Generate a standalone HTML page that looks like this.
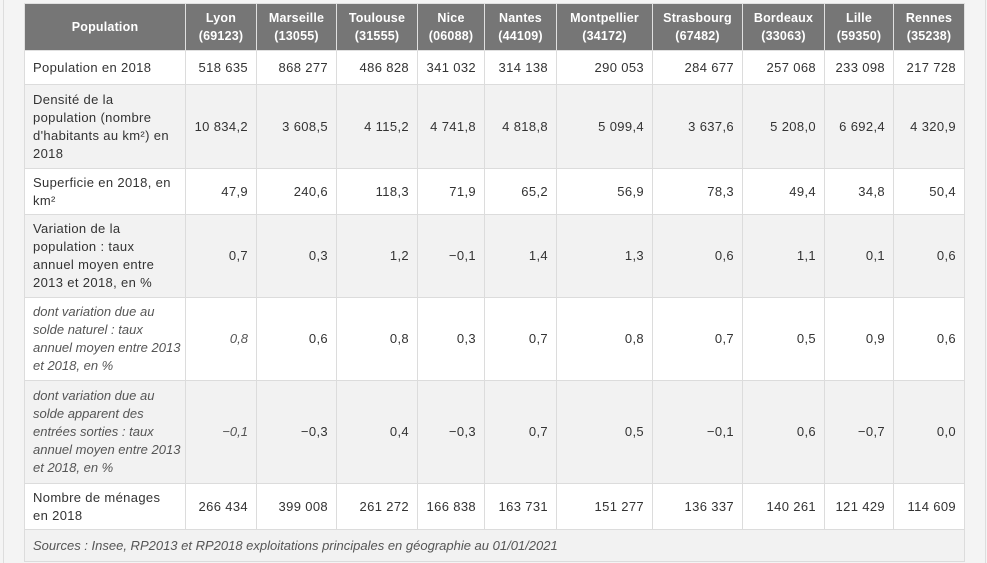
<!DOCTYPE html>
<html><head><meta charset="utf-8"><style>
html,body{margin:0;padding:0;width:987px;height:563px;overflow:hidden;background:#f4f4f4;font-family:"Liberation Sans",sans-serif;}
.lb{position:absolute;left:3px;top:0;width:1px;height:563px;background:#ddd}
.rb{position:absolute;left:985px;top:0;width:1px;height:563px;background:#ddd}
table{position:absolute;left:24px;top:3px;border-collapse:collapse;table-layout:fixed;width:940px;font-size:13px;letter-spacing:0.35px;color:#333}
td,th{border:1px solid #dcdcdc;padding:0 8px;line-height:18px;box-sizing:border-box}
th{background:#767676;color:#fff;font-weight:bold;text-align:center;border-color:#e0e0e0;font-size:12.5px;letter-spacing:0.2px;padding:0 4px}
td{text-align:right}
td:first-child{text-align:left;padding-right:6px}
tr.w td{background:#fff}
tr.g td{background:#f2f2f2}
.i{font-style:italic;color:#555;letter-spacing:0}
td.nw{white-space:nowrap;overflow:hidden;padding-right:0}
.src{text-align:left!important;font-style:italic;color:#555;background:#f2f2f2;letter-spacing:0}
</style></head><body>
<div class="lb"></div><div class="rb"></div>
<table>
<colgroup><col style="width:161px"><col style="width:71px"><col style="width:80px"><col style="width:81px"><col style="width:67px"><col style="width:72px"><col style="width:96px"><col style="width:90px"><col style="width:82px"><col style="width:69px"><col style="width:71px"></colgroup>
<tr style="height:47px"><th>Population</th><th>Lyon<br>(69123)</th><th>Marseille<br>(13055)</th><th>Toulouse<br>(31555)</th><th>Nice<br>(06088)</th><th>Nantes<br>(44109)</th><th>Montpellier<br>(34172)</th><th>Strasbourg<br>(67482)</th><th>Bordeaux<br>(33063)</th><th>Lille<br>(59350)</th><th>Rennes<br>(35238)</th></tr>
<tr class="w" style="height:34px"><td>Population en 2018</td><td>518 635</td><td>868 277</td><td>486 828</td><td>341 032</td><td>314 138</td><td>290 053</td><td>284 677</td><td>257 068</td><td>233 098</td><td>217 728</td></tr>
<tr class="g" style="height:84px"><td>Densité de la<br>population (nombre d'habitants au km²) en 2018</td><td>10 834,2</td><td>3 608,5</td><td>4 115,2</td><td>4 741,8</td><td>4 818,8</td><td>5 099,4</td><td>3 637,6</td><td>5 208,0</td><td>6 692,4</td><td>4 320,9</td></tr>
<tr class="w" style="height:46px"><td>Superficie en 2018, en km²</td><td>47,9</td><td>240,6</td><td>118,3</td><td>71,9</td><td>65,2</td><td>56,9</td><td>78,3</td><td>49,4</td><td>34,8</td><td>50,4</td></tr>
<tr class="g" style="height:83px"><td>Variation de la<br>population : taux annuel moyen entre 2013 et 2018, en %</td><td>0,7</td><td>0,3</td><td>1,2</td><td>−0,1</td><td>1,4</td><td>1,3</td><td>0,6</td><td>1,1</td><td>0,1</td><td>0,6</td></tr>
<tr class="w" style="height:83px"><td class="i nw">dont variation due au<br>solde naturel : taux<br>annuel moyen entre 2013<br>et 2018, en %</td><td class="i">0,8</td><td>0,6</td><td>0,8</td><td>0,3</td><td>0,7</td><td>0,8</td><td>0,7</td><td>0,5</td><td>0,9</td><td>0,6</td></tr>
<tr class="g" style="height:103px"><td class="i nw">dont variation due au<br>solde apparent des<br>entrées sorties : taux<br>annuel moyen entre 2013<br>et 2018, en %</td><td class="i">−0,1</td><td>−0,3</td><td>0,4</td><td>−0,3</td><td>0,7</td><td>0,5</td><td>−0,1</td><td>0,6</td><td>−0,7</td><td>0,0</td></tr>
<tr class="w" style="height:46px"><td>Nombre de ménages<br>en 2018</td><td>266 434</td><td>399 008</td><td>261 272</td><td>166 838</td><td>163 731</td><td>151 277</td><td>136 337</td><td>140 261</td><td>121 429</td><td>114 609</td></tr>
<tr style="height:32px"><td colspan="11" class="src">Sources : Insee, RP2013 et RP2018 exploitations principales en géographie au 01/01/2021</td></tr>
</table>
</body></html>
